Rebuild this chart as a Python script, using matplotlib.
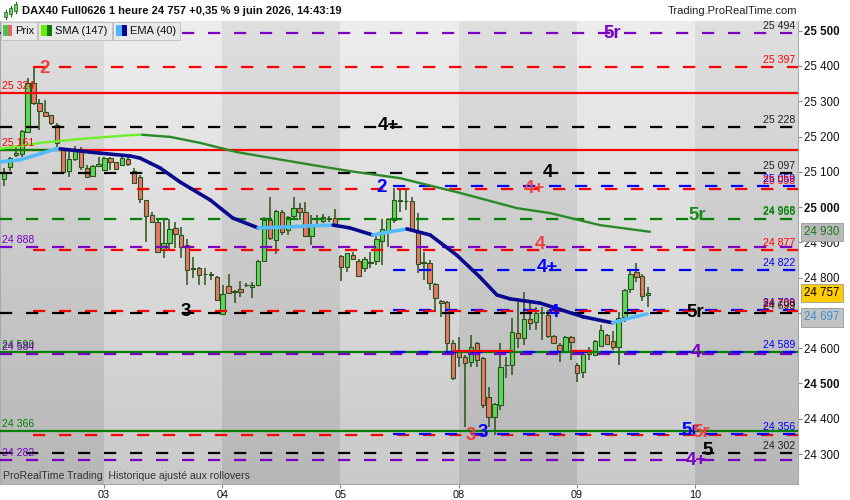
import numpy as np
import matplotlib
matplotlib.use("Agg")
import matplotlib.pyplot as plt
from matplotlib.collections import LineCollection
from matplotlib.patches import Rectangle

plt.rcParams['font.family'] = ['Liberation Sans', 'DejaVu Sans']

W, H = 850, 500

# ---------------- data ----------------
opens = [25079, 25114, 25148, 25151, 25212, 25353, 25294, 25270, 25261, 25233,
         25162, 25102, 25136, 25162, 25110, 25089, 25117, 25105, 25138, 25127,
         25119, 25136, 25102, 25086, 25020, 24978, 24957, 24878, 24899, 24940,
         24921, 24893, 24824, 24827, 24811, 24809, 24803, 24696, 24776, 24761,
         24767, 24780, 24773, 24779, 24848, 24963, 24907, 24987, 24935, 24976,
         24997, 24985, 24918, 24965, 24961, 24967, 24968, 24861, 24831, 24864,
         24848, 24826, 24843, 24848, 24905, 24933, 24963, 25019, 25018, 25018,
         24930, 24843, 24841, 24781, 24735, 24732, 24614, 24590, 24576, 24562,
         24616, 24571, 24463, 24406, 24439, 24551, 24552, 24642, 24628, 24682,
         24675, 24700, 24694, 24635, 24609, 24590, 24631, 24552, 24532, 24595,
         24581, 24607, 24638, 24620, 24603, 24689, 24767, 24816, 24805, 24750]
highs = [25110, 25143, 25173, 25219, 25365, 25397, 25306, 25304, 25261, 25238,
         25167, 25162, 25174, 25171, 25119, 25119, 25143, 25143, 25143, 25129,
         25143, 25143, 25110, 25091, 25020, 24987, 24963, 24965, 24966, 24959,
         24944, 24909, 24859, 24831, 24827, 24817, 24805, 24779, 24810, 24765,
         24790, 24784, 24789, 24850, 24973, 25030, 24992, 24992, 24975, 25030,
         25011, 25015, 24978, 24978, 24980, 24975, 24994, 24864, 24871, 24874,
         24852, 24858, 24874, 24921, 24965, 24968, 25053, 25048, 25053, 25030,
         24982, 24874, 24850, 24784, 24737, 24734, 24623, 24633, 24581, 24638,
         24618, 24574, 24491, 24444, 24615, 24576, 24686, 24732, 24760, 24727,
         24718, 24718, 24708, 24638, 24614, 24635, 24635, 24557, 24595, 24604,
         24623, 24666, 24640, 24649, 24703, 24768, 24824, 24841, 24810, 24773]
lows = [25060, 25101, 25143, 25143, 25209, 25289, 25219, 25256, 25233, 25170,
        25096, 25086, 25131, 25105, 25082, 25086, 25114, 25101, 25105, 25105,
        25117, 25117, 25065, 25011, 24902, 24954, 24871, 24856, 24878, 24883,
        24856, 24779, 24798, 24779, 24779, 24793, 24735, 24696, 24754, 24729,
        24746, 24773, 24742, 24777, 24845, 24907, 24866, 24921, 24921, 24963,
        24963, 24916, 24893, 24949, 24954, 24959, 24944, 24791, 24817, 24850,
        24803, 24817, 24826, 24836, 24836, 24888, 24956, 24987, 24992, 24930,
        24814, 24793, 24765, 24703, 24689, 24590, 24510, 24548, 24378, 24548,
        24548, 24430, 24378, 24354, 24425, 24515, 24524, 24600, 24609, 24652,
        24652, 24623, 24629, 24612, 24562, 24587, 24567, 24505, 24515, 24567,
        24578, 24604, 24609, 24595, 24552, 24675, 24756, 24789, 24735, 24718]
closes = [25100, 25140, 25154, 25216, 25353, 25294, 25273, 25259, 25238, 25181,
          25100, 25136, 25159, 25113, 25086, 25117, 25121, 25138, 25129, 25108,
          25138, 25122, 25067, 25022, 24975, 24957, 24874, 24899, 24938, 24923,
          24886, 24822, 24828, 24808, 24809, 24807, 24737, 24753, 24756, 24759,
          24760, 24778, 24779, 24847, 24963, 24912, 24989, 24930, 24973, 24997,
          24987, 24919, 24946, 24967, 24973, 24969, 24952, 24831, 24870, 24852,
          24806, 24852, 24841, 24909, 24937, 24965, 25020, 25017, 25016, 24935,
          24838, 24841, 24784, 24741, 24727, 24616, 24515, 24576, 24557, 24604,
          24567, 24439, 24406, 24441, 24548, 24553, 24645, 24628, 24682, 24671,
          24699, 24701, 24635, 24614, 24590, 24631, 24618, 24529, 24583, 24584,
          24620, 24652, 24612, 24603, 24686, 24765, 24810, 24803, 24748, 24757]

day_labels = ["03", "04", "05", "08", "09", "10"]
day_first_candle = [17, 37, 57, 77, 97, 117]

sma_idx = [-0.7, 6.1, 12.9, 21.3, 23.4, 28.1, 33.2, 39.4, 42.1, 52.3, 58.5,
           67.0, 77.2, 86.8, 92.4, 100.8, 109.3]
sma_val = [25165, 25182, 25193, 25204, 25205, 25199, 25182, 25156, 25148, 25119,
           25102, 25082, 25040, 24997, 24983, 24949, 24930]

ema_idx = [-0.7, 2.7, 6.1, 8.6, 9.5, 16.2, 21.3, 23.0, 24.7, 26.4, 28.1, 29.8,
           34.9, 38.7, 43.0, 48.4, 51.8, 55.7, 58.5, 62.4, 65.3, 68.2, 72.1,
           76.6, 80.5, 83.4, 85.6, 90.7, 98.0, 103.0, 105.9, 108.8]
ema_val = [25128, 25134, 25151, 25164, 25165, 25153, 25145, 25139, 25125, 25111,
           25091, 25071, 25020, 24969, 24941, 24944, 24947, 24949, 24941, 24921,
           24930, 24938, 24921, 24864, 24802, 24751, 24740, 24728, 24689, 24672,
           24686, 24697]

purple, red, blue, green, black = '#7b00c6', '#ff0000', '#0000ff', '#008000', '#000000'
lred = '#ee4040'

level_price = [25494, 25397, 25324, 25228, 25161, 25097, 25059, 25052, 24966,
               24888, 24877, 24822, 24709, 24706, 24700, 24590, 24589, 24584,
               24366, 24355, 24357, 24302, 24282]
level_color = [purple, red, red, black, red, black, blue, red, green,
               purple, red, blue, blue, red, black, green, blue, purple,
               green, red, blue, black, purple]
level_solid = [False, False, True, False, True, False, False, False, False,
               False, False, False, False, False, False, True, False, False,
               True, False, False, False, False]
level_start = [-0.7, 4.9, -0.7, -0.7, -0.7, -0.7, 65.8, 4.9, -0.7,
               -0.7, 4.9, 65.8, 65.8, 4.9, -0.7, -0.7, 65.8, -0.7,
               -0.7, 4.9, 65.8, -0.7, -0.7]

seg_start = [-0.7, 76.2, 96.2]
seg_end = [10.1, 86.0, 99.4]
seg_price = [25163, 24592, 24592]
seg_color = [green, red, red]

right_lab = ["25 494", "25 397", "25 228", "25 097", "25 059", "25 055", "24 966",
             "24 968", "24 877", "24 822", "24 709", "24 706", "24 699", "24 589",
             "24 356", "24 302"]
right_price = [25494, 25397, 25228, 25097, 25059, 25055, 24966, 24968, 24877,
               24822, 24709, 24706, 24699, 24589, 24356, 24302]
right_color = ['#222222', red, '#222222', '#222222', blue, red, green, green, red,
               blue, blue, red, '#222222', blue, blue, '#222222']

left_lab = ["25 324", "25 161", "24 888", "24 590", "24 584", "24 366", "24 282"]
left_price = [25324, 25161, 24888, 24590, 24584, 24366, 24282]
left_color = [red, red, purple, green, purple, green, purple]

piv_text = ["5r", "2", "4+", "4", "2", "4+", "5r", "4", "4+", "3", "4", "5r",
            "4", "3", "3", "5r", "5r", "5", "4+"]
piv_idx = [102.9, 6.8, 65.0, 92.0, 63.8, 89.8, 117.3, 90.7, 92.0, 30.8, 93.1,
           117.0, 117.1, 79.0, 81.0, 116.1, 117.9, 119.1, 117.1]
piv_price = [25493, 25394, 25230, 25098, 25056, 25053, 24975, 24893, 24829,
             24703, 24701, 24700, 24589, 24353, 24361, 24368, 24360, 24311, 24282]
piv_color = [purple, lred, black, black, blue, lred, '#1a8a1a', lred, blue,
             black, blue, black, purple, lred, blue, blue, lred, black, purple]

yticks = [24300, 24400, 24500, 24600, 24700, 24800, 24900, 25000, 25100,
          25200, 25300, 25400, 25500]

last_sma, last_price, last_ema = 24930, 24757, 24697

# ---------------- figure ----------------
fig = plt.figure(figsize=(W / 100, H / 100), dpi=100)
fig.patch.set_facecolor('white')
ax = fig.add_axes([0, 16 / H, 798 / W, 463 / H])

xmin, xmax = -0.68, 134.35
ymin, ymax = 24215.1, 25527.5

# background day bands with vertical gradient
bounds = [xmin] + [d - 0.08 for d in day_first_candle] + [xmax]
t = np.linspace(0, 1, 256)[:, None, None]
dark_top, dark_bot = np.array([0.875, 0.875, 0.875]), np.array([0.715, 0.715, 0.715])
light_top, light_bot = np.array([0.93, 0.93, 0.93]), np.array([0.79, 0.79, 0.79])
for k in range(len(bounds) - 1):
    if k % 2 == 0:
        g = dark_top + (dark_bot - dark_top) * t
    else:
        g = light_top + (light_bot - light_top) * t
    ax.imshow(g, extent=[bounds[k], bounds[k + 1], ymin, ymax], aspect='auto',
              origin='upper', zorder=0, interpolation='bilinear')

# candles
idx = np.arange(len(opens))
o, h, l, c = map(np.array, (opens, highs, lows, closes))
up = c >= o
wick = '#2b5219'
ax.vlines(idx, l, h, color=wick, lw=1.1, zorder=3)
body_b = np.minimum(o, c)
body_h = np.maximum(np.abs(c - o), 1.5)
ax.bar(idx, body_h, bottom=body_b, width=0.74,
       color=np.where(up, '#5bd85b', '#e8776a'), edgecolor=wick, linewidth=0.8, zorder=4)

# level lines
for p, col, solid, s in zip(level_price, level_color, level_solid, level_start):
    if solid:
        ax.plot([s, xmax], [p, p], color=col, lw=1.6, zorder=5, solid_capstyle='butt')
    else:
        ax.plot([s, xmax], [p, p], color=col, lw=1.6, zorder=5,
                linestyle=(0, (5.5, 6.2)), dash_capstyle='butt')
for s, e, p, col in zip(seg_start, seg_end, seg_price, seg_color):
    ax.plot([s, e], [p, p], color=col, lw=1.6, zorder=5)

# moving averages, coloured by direction
def ma_line(xs, vs, c_up, c_dn, lw):
    pts = np.column_stack([xs, vs])
    segs = np.stack([pts[:-1], pts[1:]], axis=1)
    cols = [c_up if vs[i + 1] >= vs[i] else c_dn for i in range(len(vs) - 1)]
    lc = LineCollection(segs, colors=cols, linewidths=lw, zorder=6, capstyle='round')
    ax.add_collection(lc)

ma_line(sma_idx, sma_val, '#6cee2c', '#2a8a2a', 1.7)
ma_line(ema_idx, ema_val, '#55bbff', '#0a0a90', 2.6)

# value labels on levels
for s, p, col in zip(right_lab, right_price, right_color):
    ax.annotate(s, xy=(1, p), xycoords=('axes fraction', 'data'), xytext=(-2, 1.5),
                textcoords='offset points', ha='right', va='bottom', fontsize=7.6,
                color=col, zorder=8)
for s, p, col in zip(left_lab, left_price, left_color):
    ax.annotate(s, xy=(0, p), xycoords=('axes fraction', 'data'), xytext=(1.5, 1.5),
                textcoords='offset points', ha='left', va='bottom', fontsize=7.6,
                color=col, zorder=8)

# pivot labels
for s, xi, p, col in zip(piv_text, piv_idx, piv_price, piv_color):
    ax.text(xi, p, s, ha='center', va='center', fontsize=13.5, color=col,
            fontweight='bold', zorder=9)

ax.set_xlim(xmin, xmax)
ax.set_ylim(ymin, ymax)

# axes
ax.yaxis.tick_right()
ax.set_yticks(yticks)
ax.set_yticklabels([f"{v:,}".replace(",", " ") for v in yticks])
for lab, v in zip(ax.get_yticklabels(), yticks):
    if v % 500 == 0:
        lab.set_fontweight('bold')
ax.tick_params(axis='y', direction='out', length=3, width=0.8, colors='#888888',
               labelcolor='#111111', labelsize=8.3, pad=1.5)
ax.set_xticks([d - 0.08 for d in day_first_candle])
ax.set_xticklabels(day_labels)
ax.tick_params(axis='x', direction='out', length=3, width=0.8, colors='#888888',
               labelcolor='#111111', labelsize=7.8, pad=1.5)
for side in ['top']:
    ax.spines[side].set_visible(False)
for side in ['right', 'bottom', 'left']:
    ax.spines[side].set_color('#aaaaaa')
    ax.spines[side].set_linewidth(0.8)

# last value boxes on the price axis
box_vals = [last_sma, last_price, last_ema]
box_fc = ['#b9b9b9', '#ffcc00', '#c3c3c3']
box_tc = ['#1a7a1a', '#000000', '#3a8fd0']
box_dy = [0, 0, -2.5]
for v, fc, tc, dy in zip(box_vals, box_fc, box_tc, box_dy):
    ax.annotate(f"{v:,}".replace(",", " "), xy=(1, v), xycoords=('axes fraction', 'data'),
                xytext=(4.5, dy), textcoords='offset points', ha='left', va='center',
                fontsize=8.3, color=tc, annotation_clip=False, zorder=10,
                bbox=dict(boxstyle='square,pad=0.28', fc=fc, ec='#9a9a9a', lw=0.6))


# ---------------- header / legend ----------------
def fx(x):
    return x / W


def fy(y):
    return 1 - y / H


def frect(x0, y0, x1, y1, fc, ec='none', lw=0.0):
    fig.add_artist(Rectangle((fx(x0), fy(y1)), (x1 - x0) / W, (y1 - y0) / H,
                             transform=fig.transFigure, fc=fc, ec=ec, lw=lw, zorder=20))


# title icon (tiny candlesticks)
for (x0, y0, y1) in [(4, 12, 17), (9, 8, 14), (14, 4, 11)]:
    fig.add_artist(plt.Line2D([fx(x0 + 1.5), fx(x0 + 1.5)], [fy(y0 - 2), fy(y1 + 2)],
                              transform=fig.transFigure, color='#2b5219', lw=0.8, zorder=20))
    frect(x0, y0, x0 + 3, y1, '#5bd85b', '#2b5219', 0.5)

fig.text(fx(22), fy(10.5), "DAX40 Full0626 1 heure 24 757 +0,35 % 9 juin 2026, 14:43:19",
         ha='left', va='center', fontsize=8, fontweight='bold', color='#111111')
fig.text(fx(797), fy(10.5), "Trading.ProRealTime.com", ha='right', va='center',
         fontsize=8, color='#222222')

# legend buttons
frect(1, 22, 37, 40, '#e8e8e8', '#bdbdbd', 0.6)
frect(38, 22, 112, 40, '#e8e8e8', '#bdbdbd', 0.6)
frect(113, 22, 180, 40, '#e8e8e8', '#bdbdbd', 0.6)
frect(3, 25, 7.5, 36, '#4cc44c')
frect(7.5, 25, 12, 36, '#e86464')
frect(41, 25, 46.5, 36, '#66ee00')
frect(46.5, 25, 52, 36, '#117711')
frect(116, 25, 121.5, 36, '#4db8ff')
frect(121.5, 25, 127, 36, '#000099')
fig.text(fx(15), fy(31), "Prix", ha='left', va='center', fontsize=8, color='#111111', zorder=21)
fig.text(fx(55), fy(31), "SMA (147)", ha='left', va='center', fontsize=8, color='#111111', zorder=21)
fig.text(fx(130), fy(31), "EMA (40)", ha='left', va='center', fontsize=8, color='#111111', zorder=21)

fig.text(fx(3), fy(476), "ProRealTime Trading  Historique ajusté aux rollovers",
         ha='left', va='center', fontsize=7.6, color='#333333', zorder=21)

fig.savefig('out.png', dpi=100)
